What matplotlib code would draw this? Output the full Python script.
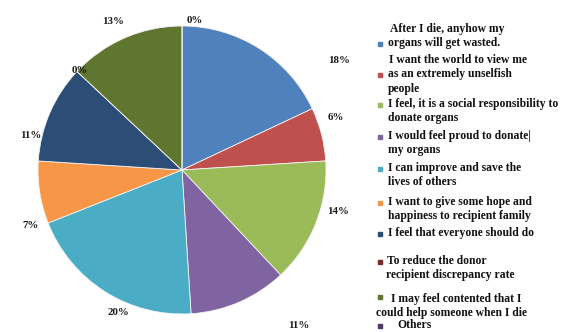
import numpy as np
import matplotlib
matplotlib.use("Agg")
import matplotlib.pyplot as plt

# reasons for organ donation (share of respondents, %)
reasons = [
    "After I die, anyhow my\norgans will get wasted.",
    "I want the world to view me\nas an extremely unselfish\npeople",
    "I feel, it is a social responsibility to\ndonate organs",
    "I would feel proud to donate|\nmy organs",
    "I can improve and save the\nlives of others",
    "I want to give some hope and\nhappiness to recipient family",
    "I feel that everyone should do",
    "To reduce the donor\nrecipient discrepancy rate",
    "I may feel contented that I\ncould help someone when I die",
    "Others",
]
shares = [18, 6, 14, 11, 20, 7, 11, 0, 13, 0]
colors = ["#4F81BD", "#C0504D", "#9BBB59", "#8064A2", "#4BACC6",
          "#F79646", "#2C4D75", "#772C2A", "#5F7530", "#4D3B62"]

# where Excel put the % labels (angle in degrees, distance in radii)
label_ang = [35, 19, -15, -53, -114, -160, 167, 136, 115, 85]
label_rad = [1.33, 1.13, 1.12, 1.35, 1.08, 1.12, 1.08, 0.99, 1.14, 1.04]

# legend layout (pixels): first line y, marker line offset, text x of each line
leg_y = [29, 60, 104, 136, 168, 202, 233, 261, 299, 325]
leg_mark = [1, 1, 0, 0, 0, 0, 0, 0, -0.2, 0]
leg_x = [[390, 388], [389, 388, 388], [388, 388], [388, 388], [388, 388],
         [388, 388], [388], [387, 386], [391, 376], [397]]

W, H = 563, 332
fig = plt.figure(figsize=(W / 100, H / 100), dpi=100)
fig.patch.set_facecolor("white")

cx, cy, r = 182, 170, 144
ax = fig.add_axes([(cx - r) / W, (H - cy - r) / H, 2 * r / W, 2 * r / H])
ax.pie(shares, colors=colors, startangle=90, counterclock=False,
       wedgeprops=dict(edgecolor="#f4f4f4", linewidth=0.6))
ax.set_xlim(-1, 1)
ax.set_ylim(-1, 1)
ax.set_aspect("equal")
ax.axis("off")

font = dict(family=["Liberation Serif", "DejaVu Serif"], weight="bold")
for s, a, d in zip(shares, label_ang, label_rad):
    t = np.deg2rad(a)
    ax.text(d * np.cos(t), d * np.sin(t), f"{s}%", ha="center", va="center",
            fontsize=7.8, color="#1a1a1a", **font)

line_h = 14.3
for lab, y, m, xs, c in zip(reasons, leg_y, leg_mark, leg_x, colors):
    for i, (line, x) in enumerate(zip(lab.split("\n"), xs)):
        fig.text(x / W, 1 - (y + i * line_h) / H, line, ha="left", va="center",
                 fontsize=8.4, color="#111111", **font)
    my = y + m * line_h + 1
    fig.patches.append(plt.Rectangle(((380 - 2) / W, 1 - (my + 2) / H), 4 / W, 4 / H,
                                     transform=fig.transFigure, color=c, figure=fig))

fig.savefig("out.png", dpi=100, facecolor="white")
